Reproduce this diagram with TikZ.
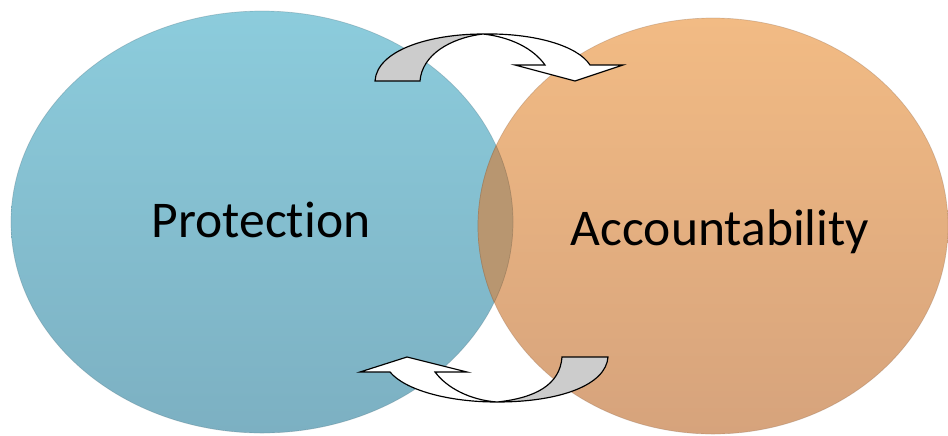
\documentclass[tikz,border=0pt]{standalone}
\usepackage{fontspec}
\setmainfont[Ligatures={NoCommon}]{Carlito}
\usetikzlibrary{positioning}

\definecolor{xanhtop}{RGB}{140,204,220}
\definecolor{xanhbot}{RGB}{124,176,194}
\definecolor{camtop}{RGB}{242,187,132}
\definecolor{cambot}{RGB}{214,163,124}
\definecolor{giao}{RGB}{184,150,112}
\definecolor{duoi}{RGB}{204,204,204}

\tikzset{
	nhan/.style={font=\fontsize{44}{50}\selectfont, anchor=base, text=black},
	muiten/.style={draw=black, line width=1pt, line join=miter},
}

\begin{document}
\begin{tikzpicture}[x=0.03cm, y=-0.03cm]
	\useasboundingbox (0,0) rectangle (948,435);
	
	% Hai hình elip
	\shade[top color=xanhtop, bottom color=xanhbot] (262,222) ellipse [x radius=251, y radius=211];
	\draw[xanhbot!70!black, opacity=0.35, line width=0.6pt] (262,222) ellipse [x radius=251, y radius=211];
	\shade[top color=camtop, bottom color=cambot] (713,226) ellipse [x radius=235, y radius=208];
	\draw[cambot!70!black, opacity=0.35, line width=0.6pt] (713,226) ellipse [x radius=235, y radius=208];
	
	% Phần giao nhau
	\begin{scope}
		\clip (262,222) ellipse [x radius=251, y radius=211];
		\fill[giao] (713,226) ellipse [x radius=235, y radius=208];
		\draw[giao!75!black, opacity=0.5, line width=0.6pt] (713,226) ellipse [x radius=235, y radius=208];
	\end{scope}
	\begin{scope}
		\clip (713,226) ellipse [x radius=235, y radius=208];
		\draw[giao!75!black, opacity=0.5, line width=0.6pt] (262,222) ellipse [x radius=251, y radius=211];
	\end{scope}
	
	% Nhãn
	\node[nhan] (prot) at (261,237) {Protection};
	\node[nhan] (acct) at (720,245) {Accountability};
	
	% Mũi tên cong phía trên
	\coordinate (T0) at (483,34);
	\fill[duoi, muiten] (375,81) .. controls (377,50) and (430,34) .. (T0)
		.. controls (450,38) and (422,55) .. (420,81) -- cycle;
	\fill[white, muiten] (T0) .. controls (535,33) and (578,46) .. (590,65)
		-- (623,65) -- (575,81) -- (515,65) -- (545,65)
		.. controls (533,48) and (510,37) .. (T0) -- cycle;
	
	% Mũi tên cong phía dưới
	\coordinate (B0) at (497,402);
	\fill[duoi, muiten] (608,357) .. controls (606,385) and (560,402) .. (B0)
		.. controls (535,398) and (560,385) .. (562,357) -- cycle;
	\fill[white, muiten] (B0) .. controls (448,402) and (405,390) .. (390,372)
		-- (360,372) -- (407,357) -- (467,372) -- (435,372)
		.. controls (447,388) and (470,400) .. (B0) -- cycle;
\end{tikzpicture}
\end{document}
